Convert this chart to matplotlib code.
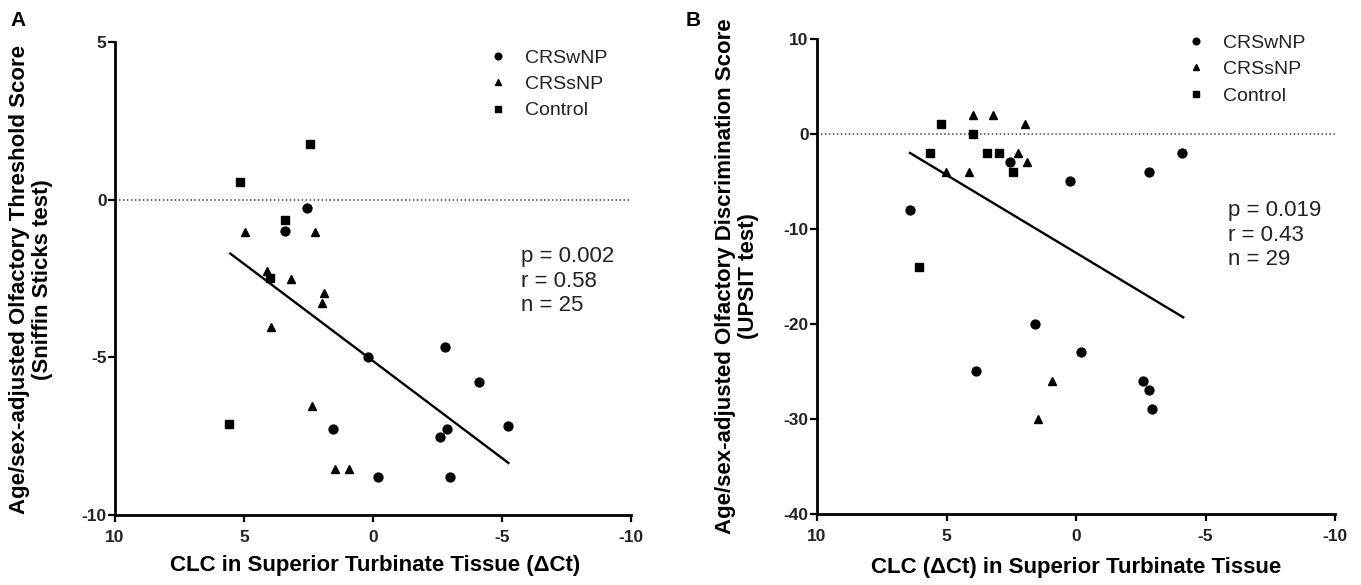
import matplotlib
matplotlib.use('Agg')
import matplotlib.pyplot as plt

plt.rcParams['font.family'] = ['Liberation Sans', 'DejaVu Sans']

# Panel A: Sniffin Sticks threshold vs CLC (dCt)
a_wnp_x = [2.54, 3.42, -2.81, 0.19, -4.1, 1.55, -2.85, -2.61, -5.25, -0.21, -2.98]
a_wnp_y = [-0.26, -1.0, -4.67, -5.0, -5.77, -7.27, -7.27, -7.52, -7.17, -8.78, -8.78]
a_snp_x = [4.98, 2.23, 4.11, 3.18, 1.91, 1.99, 3.95, 2.38, 1.49, 0.92]
a_snp_y = [-1.02, -1.02, -2.27, -2.51, -2.97, -3.29, -4.04, -6.54, -8.53, -8.53]
a_ctl_x = [2.43, 5.16, 3.4, 3.99, 5.58]
a_ctl_y = [1.76, 0.57, -0.65, -2.48, -7.11]
a_fit_x = [5.53, -5.25]
a_fit_y = [-1.71, -8.35]
a_stats = "p = 0.002\nr = 0.58\nn = 25"

# Panel B: UPSIT discrimination vs CLC (dCt)
b_wnp_x = [2.56, 0.22, -2.81, -4.09, 6.41, 1.58, -0.19, 3.87, -2.59, -2.83, -2.95]
b_wnp_y = [-3, -5, -4, -2, -8, -20, -23, -25, -26, -27, -29]
b_snp_x = [3.99, 3.22, 1.97, 2.24, 1.9, 5.03, 4.14, 0.94, 1.48]
b_snp_y = [2, 2, 1, -2, -3, -4, -4, -26, -30]
b_ctl_x = [5.2, 3.99, 5.64, 3.45, 2.96, 2.44, 6.08]
b_ctl_y = [1, 0, -2, -2, -2, -4, -14]
b_fit_x = [6.41, -4.14]
b_fit_y = [-2.0, -19.3]
b_stats = "p = 0.019\nr = 0.43\nn = 29"

fig = plt.figure(figsize=(13.61, 5.85), dpi=100)
axA = fig.add_axes([0.0845, 0.1197, 0.3791, 0.8085])
axB = fig.add_axes([0.6003, 0.1214, 0.3806, 0.8120])


def draw_panel(ax, wnp, snp, ctl, fit, stats, ylim, yticks, leg_x, leg_y, st_x, st_y):
    ax.axhline(0, color='#444444', lw=1.1, ls=(0, (1, 1.6)), zorder=1)
    ax.plot(wnp[0], wnp[1], 'o', color='black', ms=6.4, ls='none', label='CRSwNP', zorder=3)
    ax.plot(snp[0], snp[1], '^', color='black', ms=6.0, ls='none', label='CRSsNP', zorder=3)
    ax.plot(ctl[0], ctl[1], 's', color='black', ms=5.8, ls='none', label='Control', zorder=3)
    ax.plot(fit[0], fit[1], color='black', lw=1.7, zorder=2)
    ax.set_xlim(10, -10)
    ax.set_ylim(*ylim)
    ax.set_xticks([10, 5, 0, -5, -10])
    ax.set_xticklabels(['10', '5', '0', '-5', '-10'])
    ax.set_yticks(yticks)
    ax.set_yticklabels([str(t) for t in yticks])
    for s in ['top', 'right']:
        ax.spines[s].set_visible(False)
    for s in ['left', 'bottom']:
        ax.spines[s].set_linewidth(2.0)
    ax.tick_params(axis='both', width=1.6, length=5, labelsize=12.5, color='black')
    ax.tick_params(axis='x', pad=6)
    ax.tick_params(axis='y', pad=1)
    for lab in ax.get_xticklabels() + ax.get_yticklabels():
        lab.set_fontweight('bold')
        lab.set_color('#222222')
    leg = ax.legend(loc='upper left', bbox_to_anchor=(leg_x, leg_y), frameon=False,
                    fontsize=14, borderpad=0, borderaxespad=0, handlelength=0.9,
                    handletextpad=0.95, labelspacing=0.45, markerscale=0.75)
    for t in leg.get_texts():
        t.set_color('#222222')
    ax.text(st_x, st_y, stats, transform=ax.transAxes, ha='left', va='top',
            fontsize=16, linespacing=1.2, color='#222222')


draw_panel(axA, (a_wnp_x, a_wnp_y), (a_snp_x, a_snp_y), (a_ctl_x, a_ctl_y),
           (a_fit_x, a_fit_y), a_stats, (-10, 5), [5, 0, -5, -10],
           0.725, 0.985, 0.787, 0.568)
draw_panel(axB, (b_wnp_x, b_wnp_y), (b_snp_x, b_snp_y), (b_ctl_x, b_ctl_y),
           (b_fit_x, b_fit_y), b_stats, (-40, 10), [10, 0, -10, -20, -30, -40],
           0.714, 1.01, 0.793, 0.66)

# axis labels
fig.text(31 / 1361, 1 - 280 / 585,
         "Age/sex-adjusted Olfactory Threshold Score\n(Sniffin Sticks test)",
         rotation=90, ha='center', va='center', multialignment='center',
         fontsize=16, fontweight='bold', linespacing=1.15)
fig.text(737 / 1361, 1 - 276 / 585,
         "Age/sex-adjusted Olfactory Discrimination Score\n(UPSIT test)",
         rotation=90, ha='center', va='center', multialignment='center',
         fontsize=16, fontweight='bold', linespacing=1.15)
fig.text(375 / 1361, 1 - 565 / 585, "CLC in Superior Turbinate Tissue (ΔCt)",
         ha='center', va='center', fontsize=16, fontweight='bold')
fig.text(1076 / 1361, 1 - 567 / 585, "CLC (ΔCt) in Superior Turbinate Tissue",
         ha='center', va='center', fontsize=16, fontweight='bold')

# panel letters
fig.text(18 / 1361, 1 - 20 / 585, "A", ha='center', va='center', fontsize=15, fontweight='bold')
fig.text(693 / 1361, 1 - 20 / 585, "B", ha='center', va='center', fontsize=15, fontweight='bold')

fig.savefig('out.png', dpi=100)
